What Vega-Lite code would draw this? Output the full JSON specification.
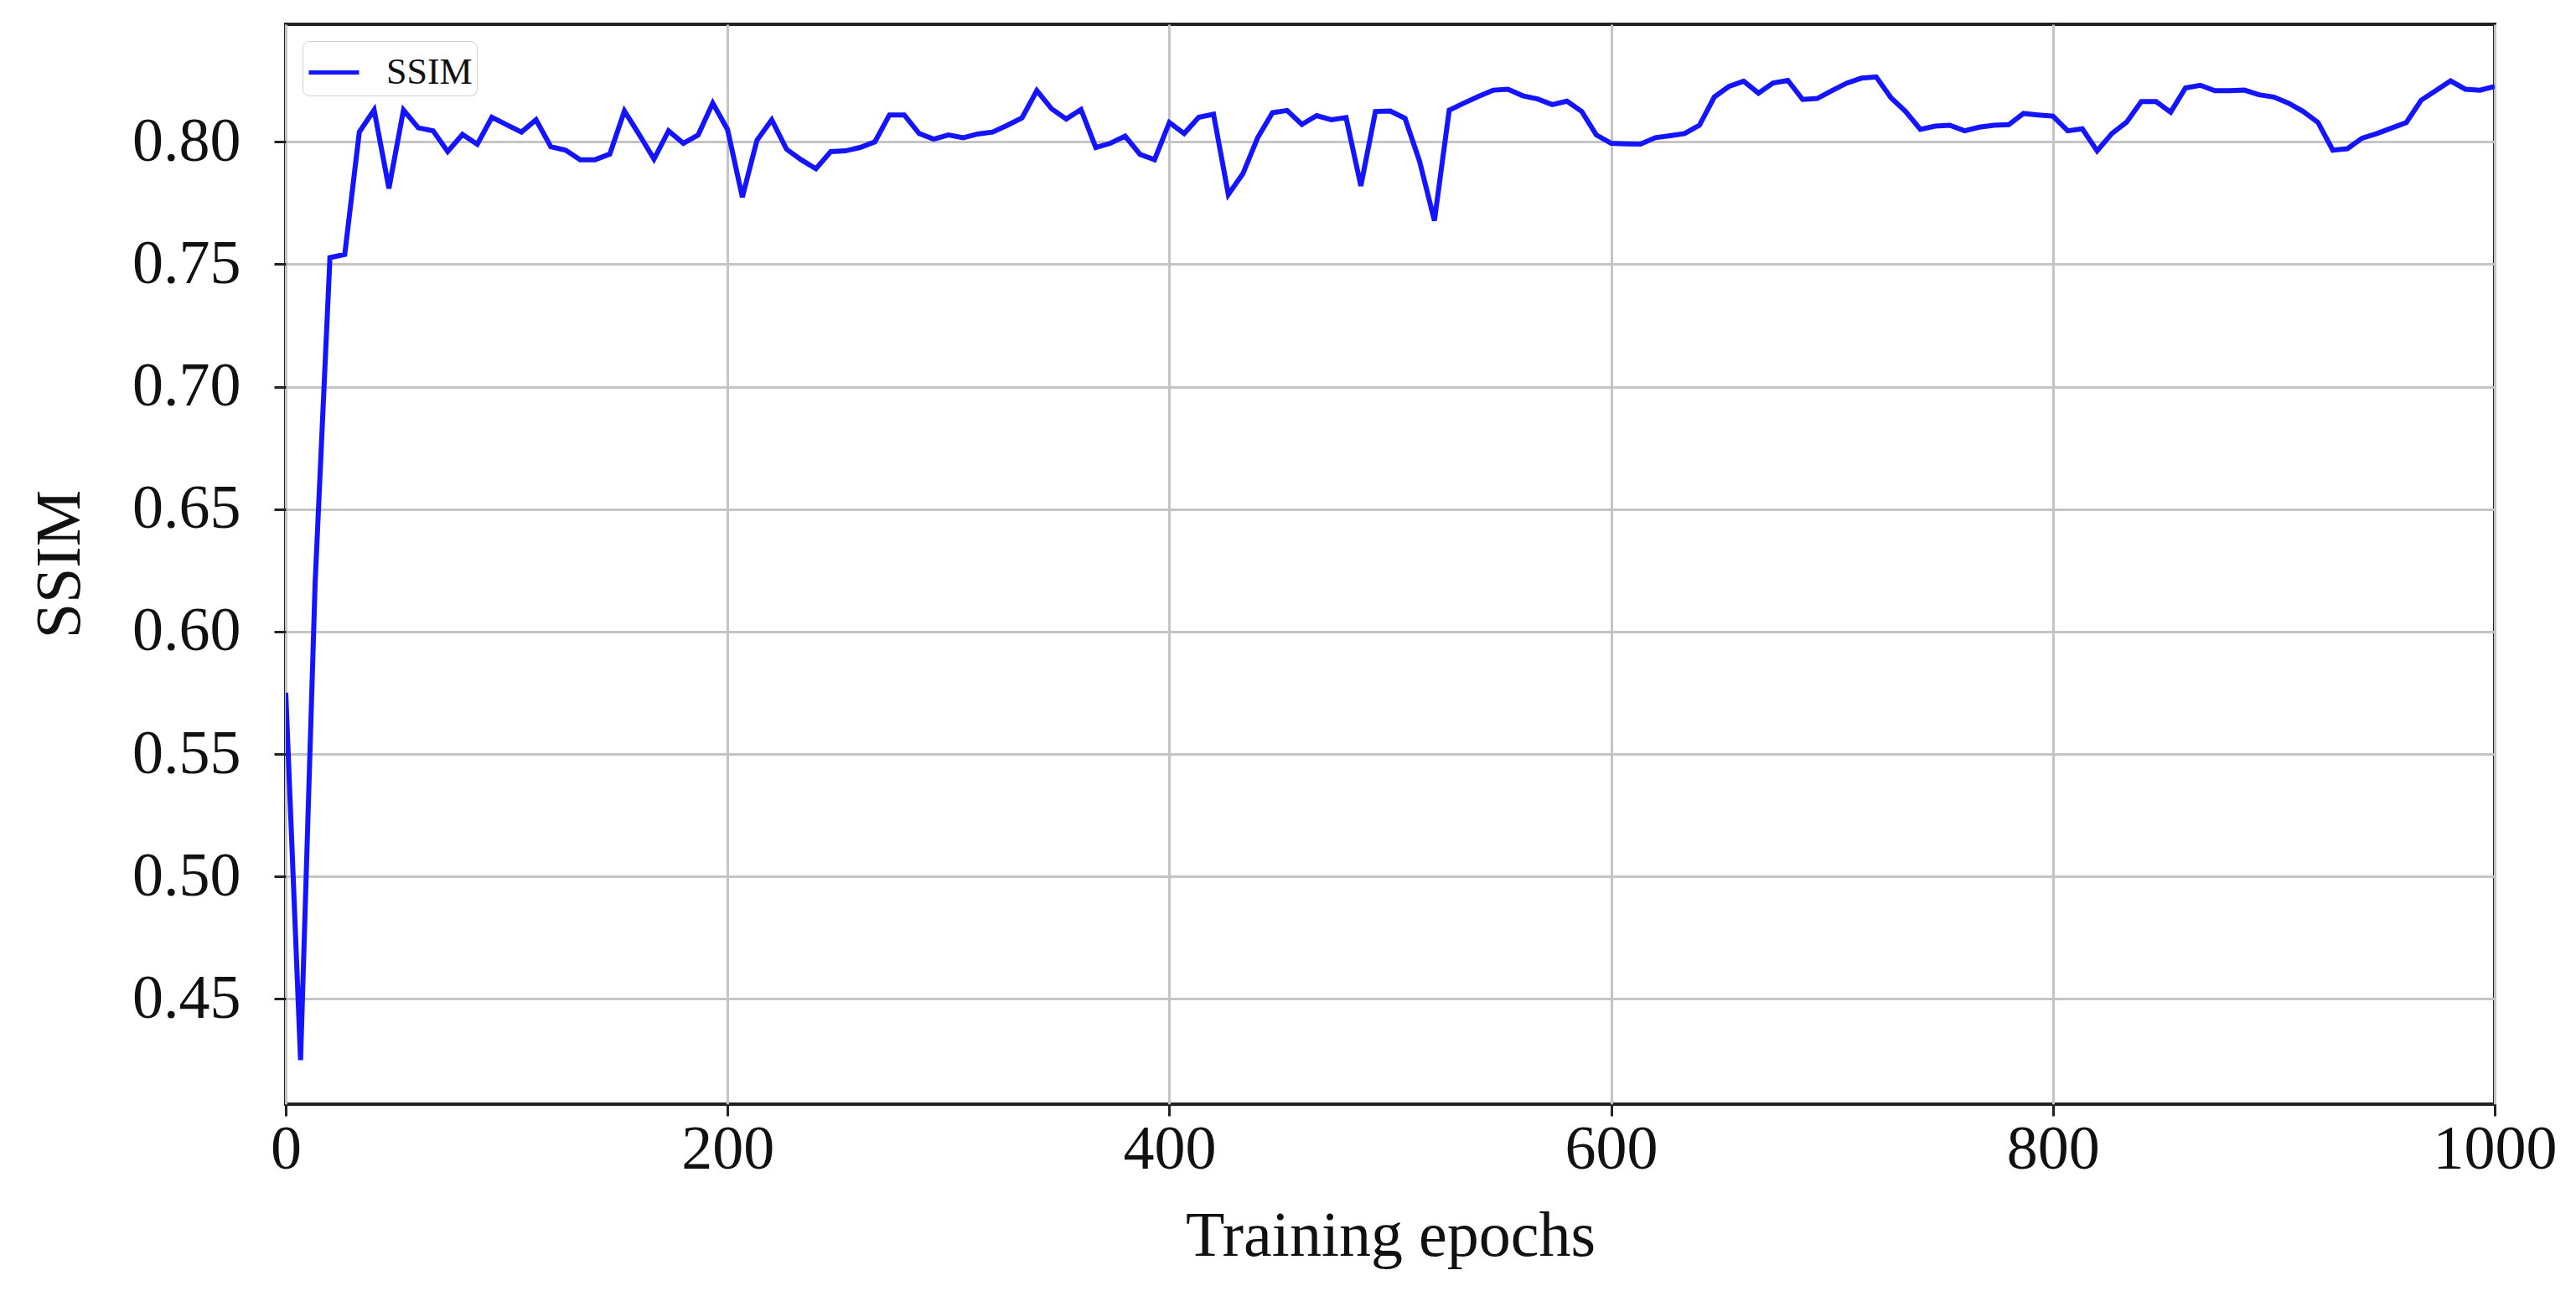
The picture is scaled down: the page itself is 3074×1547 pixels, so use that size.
{
  "$schema": "https://vega.github.io/schema/vega-lite/v6.json",
  "width": 2636,
  "height": 1289,
  "autosize": {"type": "none"},
  "padding": {"left": 341, "top": 29, "right": 97, "bottom": 229},
  "background": "white",
  "data": {
    "values": [
      {"epoch": 0, "ssim": 0.575}, {"epoch": 6.7, "ssim": 0.425}, {"epoch": 13.3, "ssim": 0.62},
      {"epoch": 20, "ssim": 0.7527}, {"epoch": 26.7, "ssim": 0.754}, {"epoch": 33.3, "ssim": 0.804},
      {"epoch": 40, "ssim": 0.813}, {"epoch": 46.7, "ssim": 0.781}, {"epoch": 53.3, "ssim": 0.813},
      {"epoch": 60, "ssim": 0.8057}, {"epoch": 66.7, "ssim": 0.8045}, {"epoch": 73.3, "ssim": 0.796},
      {"epoch": 80, "ssim": 0.803}, {"epoch": 86.7, "ssim": 0.799}, {"epoch": 93.3, "ssim": 0.810},
      {"epoch": 100, "ssim": 0.807}, {"epoch": 106.7, "ssim": 0.804}, {"epoch": 113.3, "ssim": 0.809},
      {"epoch": 120, "ssim": 0.798}, {"epoch": 126.7, "ssim": 0.7966}, {"epoch": 133.3, "ssim": 0.7927},
      {"epoch": 140, "ssim": 0.7927}, {"epoch": 146.7, "ssim": 0.795}, {"epoch": 153.3, "ssim": 0.8126},
      {"epoch": 160, "ssim": 0.803}, {"epoch": 166.7, "ssim": 0.793}, {"epoch": 173.3, "ssim": 0.8045},
      {"epoch": 180, "ssim": 0.7994}, {"epoch": 186.7, "ssim": 0.8028}, {"epoch": 193.3, "ssim": 0.8158},
      {"epoch": 200, "ssim": 0.805}, {"epoch": 206.7, "ssim": 0.7774}, {"epoch": 213.3, "ssim": 0.8006},
      {"epoch": 220, "ssim": 0.809}, {"epoch": 226.7, "ssim": 0.797}, {"epoch": 233.3, "ssim": 0.7927},
      {"epoch": 240, "ssim": 0.789}, {"epoch": 246.7, "ssim": 0.796}, {"epoch": 253.3, "ssim": 0.7963},
      {"epoch": 260, "ssim": 0.7977}, {"epoch": 266.7, "ssim": 0.800}, {"epoch": 273.3, "ssim": 0.811},
      {"epoch": 280, "ssim": 0.811}, {"epoch": 286.7, "ssim": 0.8034}, {"epoch": 293.3, "ssim": 0.8011},
      {"epoch": 300, "ssim": 0.8028}, {"epoch": 306.7, "ssim": 0.8017}, {"epoch": 313.3, "ssim": 0.8032},
      {"epoch": 320, "ssim": 0.804}, {"epoch": 326.7, "ssim": 0.8068}, {"epoch": 333.3, "ssim": 0.8098},
      {"epoch": 340, "ssim": 0.8209}, {"epoch": 346.7, "ssim": 0.8135}, {"epoch": 353.3, "ssim": 0.8093},
      {"epoch": 360, "ssim": 0.8132}, {"epoch": 366.7, "ssim": 0.7977}, {"epoch": 373.3, "ssim": 0.7994},
      {"epoch": 380, "ssim": 0.8023}, {"epoch": 386.7, "ssim": 0.7949}, {"epoch": 393.3, "ssim": 0.7927},
      {"epoch": 400, "ssim": 0.8079}, {"epoch": 406.7, "ssim": 0.8034}, {"epoch": 413.3, "ssim": 0.810},
      {"epoch": 420, "ssim": 0.8113}, {"epoch": 426.7, "ssim": 0.7785}, {"epoch": 433.3, "ssim": 0.787},
      {"epoch": 440, "ssim": 0.8017}, {"epoch": 446.7, "ssim": 0.8119}, {"epoch": 453.3, "ssim": 0.8128},
      {"epoch": 460, "ssim": 0.8071}, {"epoch": 466.7, "ssim": 0.8107}, {"epoch": 473.3, "ssim": 0.809},
      {"epoch": 480, "ssim": 0.8099}, {"epoch": 486.7, "ssim": 0.782}, {"epoch": 493.3, "ssim": 0.8124},
      {"epoch": 500, "ssim": 0.8126}, {"epoch": 506.7, "ssim": 0.8096}, {"epoch": 513.3, "ssim": 0.792},
      {"epoch": 520, "ssim": 0.7678}, {"epoch": 526.7, "ssim": 0.8129}, {"epoch": 533.3, "ssim": 0.8158},
      {"epoch": 540, "ssim": 0.8186}, {"epoch": 546.7, "ssim": 0.8211}, {"epoch": 553.3, "ssim": 0.8215},
      {"epoch": 560, "ssim": 0.8188}, {"epoch": 566.7, "ssim": 0.8175}, {"epoch": 573.3, "ssim": 0.8152},
      {"epoch": 580, "ssim": 0.8166}, {"epoch": 586.7, "ssim": 0.8124}, {"epoch": 593.3, "ssim": 0.8028},
      {"epoch": 600, "ssim": 0.7994}, {"epoch": 606.7, "ssim": 0.7992}, {"epoch": 613.3, "ssim": 0.7991},
      {"epoch": 620, "ssim": 0.8017}, {"epoch": 626.7, "ssim": 0.8025}, {"epoch": 633.3, "ssim": 0.8034},
      {"epoch": 640, "ssim": 0.8068}, {"epoch": 646.7, "ssim": 0.8183}, {"epoch": 653.3, "ssim": 0.8226},
      {"epoch": 660, "ssim": 0.8248}, {"epoch": 666.7, "ssim": 0.8199}, {"epoch": 673.3, "ssim": 0.824},
      {"epoch": 680, "ssim": 0.8251}, {"epoch": 686.7, "ssim": 0.8173}, {"epoch": 693.3, "ssim": 0.8177},
      {"epoch": 700, "ssim": 0.8209}, {"epoch": 706.7, "ssim": 0.824}, {"epoch": 713.3, "ssim": 0.826},
      {"epoch": 720, "ssim": 0.8265}, {"epoch": 726.7, "ssim": 0.818}, {"epoch": 733.3, "ssim": 0.8124},
      {"epoch": 740, "ssim": 0.8051}, {"epoch": 746.7, "ssim": 0.8064}, {"epoch": 753.3, "ssim": 0.8068},
      {"epoch": 760, "ssim": 0.8045}, {"epoch": 766.7, "ssim": 0.806}, {"epoch": 773.3, "ssim": 0.8068},
      {"epoch": 780, "ssim": 0.807}, {"epoch": 786.7, "ssim": 0.8116}, {"epoch": 793.3, "ssim": 0.811},
      {"epoch": 800, "ssim": 0.8105}, {"epoch": 806.7, "ssim": 0.8045}, {"epoch": 813.3, "ssim": 0.8053},
      {"epoch": 820, "ssim": 0.7963}, {"epoch": 826.7, "ssim": 0.8034}, {"epoch": 833.3, "ssim": 0.808},
      {"epoch": 840, "ssim": 0.8164}, {"epoch": 846.7, "ssim": 0.8164}, {"epoch": 853.3, "ssim": 0.8121},
      {"epoch": 860, "ssim": 0.822}, {"epoch": 866.7, "ssim": 0.8231}, {"epoch": 873.3, "ssim": 0.8209},
      {"epoch": 880, "ssim": 0.8209}, {"epoch": 886.7, "ssim": 0.8211}, {"epoch": 893.3, "ssim": 0.8192},
      {"epoch": 900, "ssim": 0.8183}, {"epoch": 906.7, "ssim": 0.8158}, {"epoch": 913.3, "ssim": 0.8124},
      {"epoch": 920, "ssim": 0.8079}, {"epoch": 926.7, "ssim": 0.7966}, {"epoch": 933.3, "ssim": 0.7972},
      {"epoch": 940, "ssim": 0.8015}, {"epoch": 946.7, "ssim": 0.8034}, {"epoch": 953.3, "ssim": 0.8056},
      {"epoch": 960, "ssim": 0.8079}, {"epoch": 966.7, "ssim": 0.817}, {"epoch": 973.3, "ssim": 0.8209},
      {"epoch": 980, "ssim": 0.8249}, {"epoch": 986.7, "ssim": 0.8215}, {"epoch": 993.3, "ssim": 0.8211},
      {"epoch": 1000, "ssim": 0.8226}
    ]
  },
  "mark": {"type": "line", "strokeWidth": 6, "clip": true},
  "encoding": {
    "x": {
      "field": "epoch",
      "type": "quantitative",
      "title": "Training epochs",
      "scale": {"domain": [0, 1000], "nice": false, "zero": false},
      "axis": {
        "values": [0, 200, 400, 600, 800, 1000],
        "format": "d",
        "labelFlush": false,
        "labelPadding": 4,
        "titleY": 180,
        "titleBaseline": "alphabetic"
      }
    },
    "y": {
      "field": "ssim",
      "type": "quantitative",
      "title": "SSIM",
      "scale": {"domain": [0.407, 0.848], "nice": false, "zero": false},
      "axis": {
        "values": [0.45, 0.5, 0.55, 0.6, 0.65, 0.7, 0.75, 0.8],
        "format": ".2f",
        "labelPadding": 40,
        "titleX": -270,
        "titleY": 644,
        "titleAlign": "center",
        "titleBaseline": "middle"
      }
    },
    "color": {
      "datum": "SSIM",
      "type": "nominal",
      "scale": {"range": ["#1414ff"]},
      "legend": {
        "title": null,
        "orient": "top-left",
        "offset": 20,
        "padding": 5,
        "fillColor": "white",
        "strokeColor": "#d0d0d0",
        "cornerRadius": 8,
        "symbolType": "stroke",
        "symbolSize": 3600,
        "symbolStrokeWidth": 5,
        "labelFont": "Liberation Serif",
        "labelFontSize": 44,
        "labelColor": "#111",
        "labelOffset": 30
      }
    }
  },
  "config": {
    "view": {"stroke": "#222", "strokeWidth": 4},
    "axis": {
      "labelFont": "Liberation Serif",
      "labelFontSize": 74,
      "labelColor": "#111",
      "titleFont": "Liberation Serif",
      "titleFontSize": 76,
      "titleFontWeight": "normal",
      "titleColor": "#111",
      "grid": true,
      "gridColor": "#c4c4c4",
      "gridWidth": 3,
      "domain": false,
      "tickColor": "#222",
      "tickWidth": 3,
      "tickSize": 14
    }
  }
}
